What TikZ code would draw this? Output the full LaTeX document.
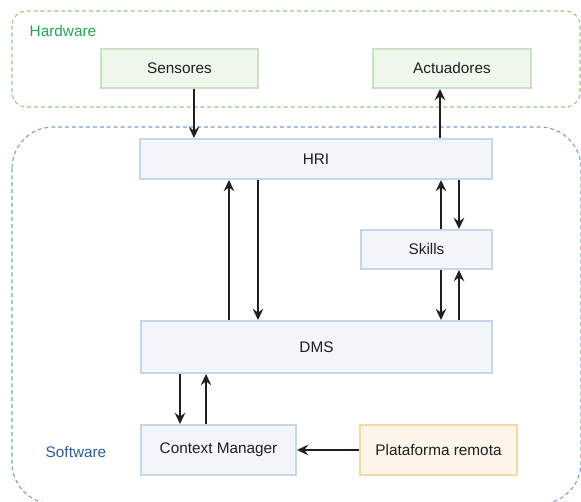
\documentclass[tikz,border=0pt]{standalone}
\usepackage{fontspec}
\setmainfont{Liberation Sans}
\usetikzlibrary{arrows.meta}
\definecolor{hwfill}{HTML}{EFF6EC}
\definecolor{hwline}{HTML}{C9E0C2}
\definecolor{swfill}{HTML}{F2F6FB}
\definecolor{swline}{HTML}{C7D6EB}
\definecolor{rmfill}{HTML}{FDF5E9}
\definecolor{rmline}{HTML}{F3DA9F}
\definecolor{hwframe}{HTML}{97CA7E}
\definecolor{swframe}{HTML}{7C9CCB}
\definecolor{hwtext}{HTML}{23A455}
\definecolor{swtext}{HTML}{2B5C9B}
\begin{document}
\begin{tikzpicture}[x=0.75pt,y=-0.75pt,
    every node/.style={font=\fontsize{11.5}{14}\selectfont, text=black!88},
    box/.style={draw=swline, fill=swfill, line width=1.5pt, minimum height=29.25pt},
    hwbox/.style={box, draw=hwline, fill=hwfill},
    rmbox/.style={box, draw=rmline, fill=rmfill},
    frame/.style={dashed, dash pattern=on 3pt off 2.2pt, line width=0.8pt},
    arr/.style={-{Stealth[length=8.5pt,width=8pt,inset=3pt]}, line width=1pt, black!88}]
  \useasboundingbox (0,0) rectangle (581,502);
  % frames
  \begin{scope}
    \clip (0,0) rectangle (581,502);
    \draw[frame, draw=hwframe, rounded corners=11pt] (12,11) rectangle (580,107);
    \draw[frame, draw=swframe, rounded corners=31pt] (12,127) rectangle (581,504);
  \end{scope}
  \node[anchor=west, text=hwtext] (hwlabel) at (25,31) {Hardware};
  \node[text=swtext] (swlabel) at (76,452) {Software};
  % boxes
  \node[hwbox, minimum width=117.75pt] (sens) at (179.5,68.5) {Sensores};
  \node[hwbox, minimum width=118.5pt] (act) at (452,68.5) {Actuadores};
  \node[box, minimum width=264pt, minimum height=30pt] (hri) at (316,159) {HRI};
  \node[box, minimum width=98.25pt] (skills) at (426.5,249.5) {Skills};
  \node[box, minimum width=263.25pt, minimum height=39pt] (dms) at (316.5,347) {DMS};
  \node[box, minimum width=116.25pt, minimum height=37.5pt] (ctx) at (218.5,450) {Context Manager};
  \node[rmbox, minimum width=117.75pt, minimum height=37.5pt] (plat) at (438.5,450) {Plataforma remota};
  % arrow columns
  \coordinate (ca) at (194,0);
  \coordinate (cb) at (440,0);
  \coordinate (cc) at (229,0);
  \coordinate (cd) at (258,0);
  \coordinate (ce) at (441,0);
  \coordinate (cf) at (459,0);
  \coordinate (cg) at (180,0);
  \coordinate (ch) at (206,0);
  % connectors
  \draw[arr] (sens.south -| ca) -- (hri.north -| ca);
  \draw[arr] (hri.north -| cb) -- (act.south -| cb);
  \draw[arr] (dms.north -| cc) -- (hri.south -| cc);
  \draw[arr] (hri.south -| cd) -- (dms.north -| cd);
  \draw[arr] (skills.north -| ce) -- (hri.south -| ce);
  \draw[arr] (hri.south -| cf) -- (skills.north -| cf);
  \draw[arr] (skills.south -| ce) -- (dms.north -| ce);
  \draw[arr] (dms.north -| cf) -- (skills.south -| cf);
  \draw[arr] (dms.south -| cg) -- (ctx.north -| cg);
  \draw[arr] (ctx.north -| ch) -- (dms.south -| ch);
  \draw[arr] (plat) -- (ctx);
\end{tikzpicture}
\end{document}
